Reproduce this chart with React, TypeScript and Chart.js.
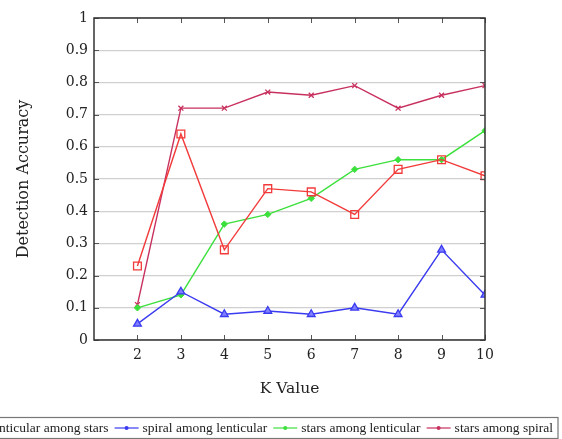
import React, { useEffect, useRef } from "react";
import { Chart, registerables } from "chart.js";

Chart.register(...registerables);

const kValues = [2, 3, 4, 5, 6, 7, 8, 9, 10];
const lenticularAmongStars = [0.23, 0.64, 0.28, 0.47, 0.46, 0.39, 0.53, 0.56, 0.51];
const spiralAmongLenticular = [0.05, 0.15, 0.08, 0.09, 0.08, 0.10, 0.08, 0.28, 0.14];
const starsAmongLenticular = [0.10, 0.14, 0.36, 0.39, 0.44, 0.53, 0.56, 0.56, 0.65];
const starsAmongSpiral = [0.11, 0.72, 0.72, 0.77, 0.76, 0.79, 0.72, 0.76, 0.79];
const seriesNames = [
  "lenticular among stars",
  "spiral among lenticular",
  "stars among lenticular",
  "stars among spiral",
];
const xTickValues = [2, 3, 4, 5, 6, 7, 8, 9, 10];
const yTickValues = [0, 0.1, 0.2, 0.3, 0.4, 0.5, 0.6, 0.7, 0.8, 0.9, 1];

const FONT = "'DejaVu Serif', 'Liberation Serif', serif";
const LFONT = "'Liberation Serif', serif";

const framePlugin = {
  id: "frameTicks",
  afterDatasetsDraw(chart: any) {
    const { ctx, chartArea: a, scales } = chart;
    const x = scales.x;
    const y = scales.y;
    ctx.save();
    ctx.strokeStyle = "#555";
    ctx.lineWidth = 1;
    ctx.beginPath();
    xTickValues.forEach((v) => {
      const px = Math.round(x.getPixelForValue(v)) + 0.5;
      ctx.moveTo(px, a.bottom);
      ctx.lineTo(px, a.bottom - 5);
      ctx.moveTo(px, a.top);
      ctx.lineTo(px, a.top + 5);
    });
    yTickValues.forEach((v) => {
      const py = Math.round(y.getPixelForValue(v)) + 0.5;
      ctx.moveTo(a.left, py);
      ctx.lineTo(a.left + 5, py);
      ctx.moveTo(a.right, py);
      ctx.lineTo(a.right - 5, py);
    });
    ctx.stroke();
    ctx.strokeStyle = "#333";
    ctx.lineWidth = 1.5;
    ctx.strokeRect(a.left, a.top, a.right - a.left, a.bottom - a.top);
    ctx.restore();
  },
};

const legendPlugin = {
  id: "customLegend",
  afterDraw(chart: any) {
    const { ctx } = chart;
    const ds = chart.data.datasets;
    const sx0 = 1.04;
    const sampleW = 24;
    ctx.save();
    ctx.font = `13px ${LFONT}`;
    ctx.textBaseline = "middle";
    const cy = 428;
    let x = 553;
    const pos: any[] = [];
    for (let i = ds.length - 1; i >= 0; i--) {
      const w = ctx.measureText(ds[i].label).width * sx0;
      const tx = x - w;
      const sx = tx - 4 - sampleW;
      pos.unshift({ tx, sx });
      x = sx - 6;
    }
    ctx.strokeStyle = "#777";
    ctx.lineWidth = 1.2;
    ctx.strokeRect(x, 417.5, 558 - x, 21);
    ds.forEach((d: any, i: number) => {
      const { tx, sx } = pos[i];
      ctx.strokeStyle = d.borderColor;
      ctx.lineWidth = 1.2;
      ctx.beginPath();
      ctx.moveTo(sx, cy);
      ctx.lineTo(sx + sampleW, cy);
      ctx.stroke();
      ctx.fillStyle = d.borderColor;
      ctx.beginPath();
      ctx.arc(sx + sampleW / 2, cy, 2, 0, Math.PI * 2);
      ctx.fill();
      ctx.save();
      ctx.translate(tx, cy + 1);
      ctx.scale(sx0, 1);
      ctx.fillStyle = "#222";
      ctx.fillText(d.label, 0, 0);
      ctx.restore();
    });
    ctx.restore();
  },
};

export default function App() {
  const ref = useRef<HTMLCanvasElement>(null);
  useEffect(() => {
    if (!ref.current) return;
    const mk = (v: number[]) => v.map((y, i) => ({ x: kValues[i], y }));
    const chart = new Chart(ref.current, {
      type: "line",
      data: {
        datasets: [
          {
            label: seriesNames[0],
            data: mk(lenticularAmongStars),
            borderColor: "#f23a3a",
            backgroundColor: "rgba(255,255,255,0)",
            pointStyle: "rect",
            pointRadius: 5.5,
            pointBorderWidth: 1.3,
            borderWidth: 1.4,
          },
          {
            label: seriesNames[1],
            data: mk(spiralAmongLenticular),
            borderColor: "#3a3af0",
            backgroundColor: "#8080ff",
            pointStyle: "triangle",
            pointRadius: 4.5,
            pointBorderWidth: 1.3,
            borderWidth: 1.4,
          },
          {
            label: seriesNames[2],
            data: mk(starsAmongLenticular),
            borderColor: "#3ce03c",
            backgroundColor: "#3ce03c",
            pointStyle: "rectRot",
            pointRadius: 3.2,
            pointBorderWidth: 1,
            borderWidth: 1.4,
          },
          {
            label: seriesNames[3],
            data: mk(starsAmongSpiral),
            borderColor: "#c8305e",
            backgroundColor: "#c8305e",
            pointStyle: "crossRot",
            pointRadius: 3.5,
            pointBorderWidth: 1.3,
            borderWidth: 1.4,
          },
        ],
      },
      options: {
        animation: false,
        responsive: false,
        maintainAspectRatio: false,
        layout: { padding: { top: 18, right: 77, bottom: 41, left: 0 } },
        plugins: { legend: { display: false }, tooltip: { enabled: false } },
        scales: {
          x: {
            type: "linear",
            min: 1,
            max: 10,
            border: { display: false },
            grid: { display: false, drawTicks: false },
            afterBuildTicks: (s: any) => {
              s.ticks = xTickValues.map((v) => ({ value: v }));
            },
            afterFit: (s: any) => {
              s.height = 58;
            },
            ticks: {
              font: { family: FONT, size: 14 },
              color: "#222",
              padding: 7,
              maxRotation: 0,
              autoSkip: false,
            },
            title: {
              display: true,
              text: "K Value",
              font: { family: FONT, size: 15.5 },
              color: "#222",
              padding: { top: 4, bottom: 0 },
            },
          },
          y: {
            type: "linear",
            min: 0,
            max: 1,
            border: { display: false },
            grid: { color: "#d0d0d0", lineWidth: 1.2, drawTicks: false },
            afterBuildTicks: (s: any) => {
              s.ticks = yTickValues.map((v) => ({ value: v }));
            },
            afterFit: (s: any) => {
              s.width = 94;
            },
            ticks: {
              font: { family: FONT, size: 14 },
              color: "#222",
              padding: 6,
              callback: (v: any) => String(Math.round(Number(v) * 10) / 10),
            },
            title: {
              display: true,
              text: "Detection Accuracy",
              font: { family: FONT, size: 16 },
              color: "#222",
              padding: { top: 14, bottom: 6 },
            },
          },
        },
      },
      plugins: [framePlugin, legendPlugin],
    });
    return () => chart.destroy();
  }, []);
  return (
    <div style={{ position: "fixed", left: 0, top: 0, width: 562, height: 439, background: "#fff" }}>
      <canvas ref={ref} width={562} height={439} style={{ display: "block" }} />
    </div>
  );
}
